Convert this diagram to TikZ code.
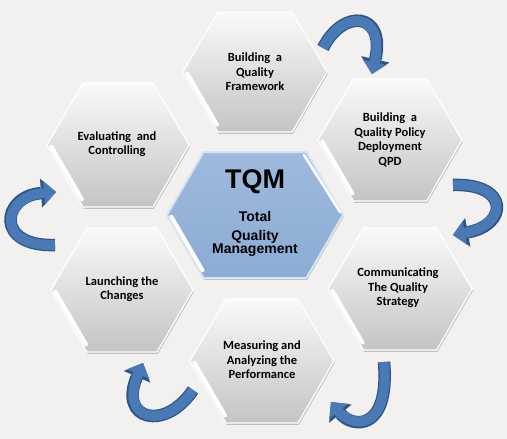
\documentclass[tikz,border=0pt]{standalone}
\usepackage{fontspec}
\setmainfont{Carlito}
\newfontfamily\arialfont{Liberation Sans}
\usetikzlibrary{arrows.meta,shadows}
\definecolor{bg}{RGB}{242,241,239}
\definecolor{hexTop}{RGB}{250,250,250}
\definecolor{hexBot}{RGB}{196,196,196}
\definecolor{ctrTop}{RGB}{158,186,221}
\definecolor{ctrBot}{RGB}{140,172,212}
\definecolor{ctrEdge}{RGB}{214,227,242}
\definecolor{arrFill}{RGB}{74,122,181}
\definecolor{arrEdge}{RGB}{44,84,134}

% cx, cy, R, h, style
\newcommand\hexagonshape[5]{%
  \path[#5] ({#1-#3},#2) -- ({#1-#3+0.58*#4},{#2-#4}) -- ({#1+#3-0.58*#4},{#2-#4})
    -- ({#1+#3},#2) -- ({#1+#3-0.58*#4},{#2+#4}) -- ({#1-#3+0.58*#4},{#2+#4}) -- cycle;
  \draw[bevel] ({#1-#3+0.05*0.58*#4+2.6},{#2+0.05*#4-1.4}) -- ({#1-#3+0.9*0.58*#4+2.6},{#2+0.9*#4-1.4});
}

\tikzset{
  hexgray/.style={top color=hexTop, bottom color=hexBot, draw=white, line width=1.2pt,
    line join=round, drop shadow={shadow xshift=0.8pt, shadow yshift=-1.8pt, opacity=0.2, fill=black}},
  hexblue/.style={top color=ctrTop, bottom color=ctrBot, draw=ctrEdge, line width=2pt,
    line join=round, drop shadow={shadow xshift=0.8pt, shadow yshift=-1.8pt, opacity=0.2, fill=black}},
  bevel/.style={white, line width=4pt, line cap=round},
  hextext/.style={align=center, text=black, inner sep=0pt,
    font=\bfseries\fontsize{12.5}{14.5}\selectfont},
  blockarrow/.style={arrFill, line width=10pt,
    -{Triangle[width=24pt,length=12pt,line width=0pt]},
    preaction={draw=arrEdge, line width=12.5pt,
      -{Triangle[width=29pt,length=15pt,line width=0pt]}}}
}

\begin{document}
\begin{tikzpicture}[x=1pt,y=-1pt]
\useasboundingbox (0,0) rectangle (507,439);
\fill[bg] (0,0) rectangle (507,439);

% gray hexagons
\hexagonshape{255}{72}{72}{60}{hexgray}
\hexagonshape{390}{140}{72}{61}{hexgray}
\hexagonshape{400}{289}{72}{61}{hexgray}
\hexagonshape{262}{361}{72}{62}{hexgray}
\hexagonshape{122}{290}{71}{62}{hexgray}
\hexagonshape{118}{145}{71}{62}{hexgray}

% center hexagon
\hexagonshape{255}{215}{88}{63}{hexblue}
\draw[white, line width=2.5pt, line cap=round] (304,155) -- (340,212);

% texts
\node[hextext] (frame) at (255,72) {Building\ \ a\\Quality\\Framework};
\node[hextext] (qpd) at (390,140) {Building\ \ a\\Quality Policy\\Deployment\\QPD};
\node[hextext] (comm) at (398,288) {Communicating\\The Quality\\Strategy};
\node[hextext] (meas) at (262,360) {Measuring and\\Analyzing the\\Performance};
\node[hextext] (launch) at (122,289) {Launching the\\Changes};
\node[hextext] (eval) at (117,144) {Evaluating\ \ and\\Controlling};

\node[text=black, font=\arialfont\bfseries\fontsize{27}{27}\selectfont]
  (tqm) at (255,182) {TQM};
\node[align=center, text=black, font=\arialfont\bfseries\fontsize{14}{13.5}\selectfont]
  (tqmsub) at (255,234) {Total\\[5pt]Quality\\Management};

% curved arrows
\coordinate (a1s) at (323,48);  \coordinate (a1e) at (372,74);
\coordinate (a2s) at (453,185); \coordinate (a2e) at (453,235);
\coordinate (a3s) at (384,362); \coordinate (a3e) at (331,402);
\coordinate (a4s) at (193,390); \coordinate (a4e) at (143,363);
\coordinate (a5s) at (55,245);  \coordinate (a5e) at (56,192);

\draw[blockarrow] (a1s) .. controls (343,8) and (386,12) .. (a1e);
\draw[blockarrow] (a2s) .. controls (510,183) and (508,225) .. (a2e);
\draw[blockarrow] (a3s) .. controls (390,432) and (352,428) .. (a3e);
\draw[blockarrow] (a4s) .. controls (165,432) and (118,420) .. (a4e);
\draw[blockarrow] (a5s) .. controls (-6,247) and (2,196) .. (a5e);
\end{tikzpicture}
\end{document}
